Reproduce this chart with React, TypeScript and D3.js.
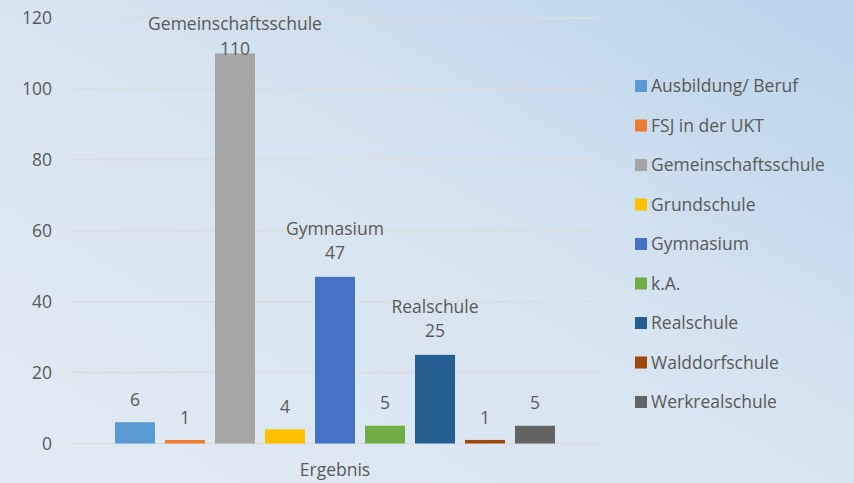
import * as d3 from "d3";
import React from "react";

const series = [
  "Ausbildung/ Beruf",
  "FSJ in der UKT",
  "Gemeinschaftsschule",
  "Grundschule",
  "Gymnasium",
  "k.A.",
  "Realschule",
  "Walddorfschule",
  "Werkrealschule",
];
const values = [6, 1, 110, 4, 47, 5, 25, 1, 5];
const colors = [
  "#5B9BD5",
  "#ED7D31",
  "#A5A5A5",
  "#FFC000",
  "#4472C4",
  "#70AD47",
  "#255E91",
  "#9E480E",
  "#636363",
];
// Serien, bei denen zusätzlich der Name angezeigt wird
const namedLabels = ["Gemeinschaftsschule", "Gymnasium", "Realschule"];
const yTicks = [0, 20, 40, 60, 80, 100, 120];
const category = "Ergebnis";

const W = 854;
const H = 483;
const FONT = "'Open Sans', sans-serif";
const FS = 17.5;
const TEXT = "#595959";

export default function App() {
  const ref = React.useRef<SVGSVGElement>(null);

  React.useEffect(() => {
    if (!ref.current) return;
    const svg = d3.select(ref.current);
    svg.selectAll("*").remove();

    // Hintergrund-Verlauf
    const defs = svg.append("defs");
    const grad = defs
      .append("linearGradient")
      .attr("id", "bg")
      .attr("x1", "0")
      .attr("y1", "1")
      .attr("x2", "1")
      .attr("y2", "0");
    grad.append("stop").attr("offset", "0").attr("stop-color", "#e1ebf5");
    grad.append("stop").attr("offset", "0.55").attr("stop-color", "#d6e4f1");
    grad.append("stop").attr("offset", "1").attr("stop-color", "#bad3ea");
    svg.append("rect").attr("width", W).attr("height", H).attr("fill", "url(#bg)");

    const plotLeft = 72;
    const plotRight = 598;

    const y = d3.scaleLinear().domain([0, 120]).range([443.5, 18]);

    const x0 = d3.scaleBand().domain([category]).range([plotLeft, plotRight]);
    const groupMid = (x0(category) || 0) + x0.bandwidth() / 2;
    const x1 = d3
      .scaleBand()
      .domain(series)
      .range([groupMid - 225, groupMid + 225])
      .paddingInner(0.2)
      .paddingOuter(0.1);

    // Gitterlinien
    svg
      .append("g")
      .selectAll("line")
      .data(yTicks)
      .enter()
      .append("line")
      .attr("x1", plotLeft)
      .attr("x2", plotRight)
      .attr("y1", (d) => y(d))
      .attr("y2", (d) => y(d))
      .attr("stroke", "#dcdcdc")
      .attr("stroke-width", 1.5);

    // Y-Achse Beschriftung
    svg
      .append("g")
      .selectAll("text")
      .data(yTicks)
      .enter()
      .append("text")
      .attr("x", 52)
      .attr("y", (d) => y(d))
      .attr("dy", "0.35em")
      .attr("text-anchor", "end")
      .attr("font-family", FONT)
      .attr("font-size", FS)
      .attr("fill", TEXT)
      .text((d) => d);

    // Balken
    svg
      .append("g")
      .selectAll("rect")
      .data(series)
      .enter()
      .append("rect")
      .attr("x", (d) => x1(d) || 0)
      .attr("width", x1.bandwidth())
      .attr("y", (d, i) => y(values[i]))
      .attr("height", (d, i) => y(0) - y(values[i]))
      .attr("fill", (d, i) => colors[i]);

    // Datenbeschriftungen
    const labels = svg
      .append("g")
      .attr("font-family", FONT)
      .attr("font-size", FS)
      .attr("fill", TEXT)
      .attr("text-anchor", "middle");
    series.forEach((s, i) => {
      const cx = (x1(s) || 0) + x1.bandwidth() / 2;
      const top = y(values[i]);
      if (namedLabels.includes(s)) {
        const nameY = Math.max(top - 48, 24);
        labels.append("text").attr("x", cx).attr("y", nameY).attr("dy", "0.35em").text(s);
        labels.append("text").attr("x", cx).attr("y", nameY + 24.5).attr("dy", "0.35em").text(values[i]);
      } else {
        labels.append("text").attr("x", cx).attr("y", top - 22.5).attr("dy", "0.35em").text(values[i]);
      }
    });

    // X-Achse Kategorie
    svg
      .append("text")
      .attr("x", groupMid)
      .attr("y", 470)
      .attr("dy", "0.35em")
      .attr("text-anchor", "middle")
      .attr("font-family", FONT)
      .attr("font-size", FS)
      .attr("fill", TEXT)
      .text(category);

    // Legende
    const legend = svg
      .append("g")
      .selectAll("g")
      .data(series)
      .enter()
      .append("g")
      .attr("transform", (d, i) => `translate(635,${86 + i * 39.5})`);
    legend
      .append("rect")
      .attr("y", -6)
      .attr("width", 12)
      .attr("height", 12)
      .attr("fill", (d, i) => colors[i]);
    legend
      .append("text")
      .attr("x", 16)
      .attr("dy", "0.35em")
      .attr("font-family", FONT)
      .attr("font-size", FS)
      .attr("fill", TEXT)
      .text((d) => d);
  }, []);

  return (
    <svg
      ref={ref}
      width={W}
      height={H}
      style={{ position: "absolute", left: 0, top: 0, display: "block" }}
    />
  );
}
